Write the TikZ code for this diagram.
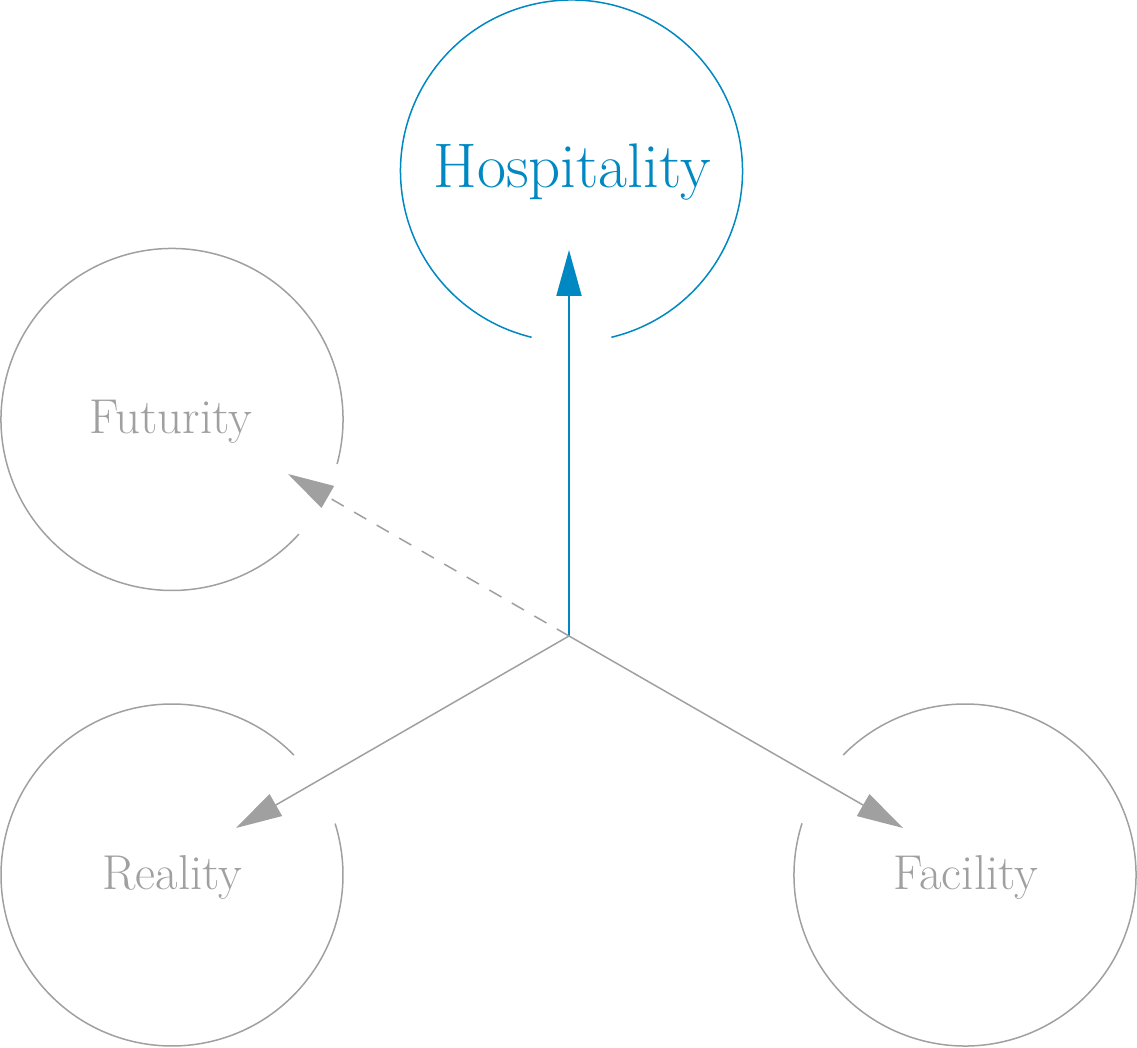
\documentclass[tikz,border=0pt]{standalone}
\usetikzlibrary{arrows.meta}
\definecolor{hblue}{RGB}{0,136,194}
\definecolor{hgray}{RGB}{160,160,160}
\begin{document}
\begin{tikzpicture}[x=1pt,y=1pt,
  ring/.style={line width=1.5pt},
  lbl/.style={anchor=base, inner sep=0pt, font=\fontsize{49}{58}\selectfont, text=hgray},
  tipped/.style={-{Triangle[length=46pt,width=25pt]}}]
\useasboundingbox (0,0) rectangle (1137,1048);
% centres and points
\coordinate (hub) at (569,412);
\coordinate (cH) at (571.5,877);
\coordinate (cF) at (172,628.5);
\coordinate (cR) at (172,173);
\coordinate (cFa) at (965,173);
\coordinate (tH) at (569,798);
\coordinate (tF) at (288,574);
\coordinate (tR) at (236,220);
\coordinate (tFa) at (903,220);
% rings with gaps
\draw[ring,hblue] (cH) ++(283.5:171) arc[start angle=283.5, end angle=616.5, radius=171];
\draw[ring,hgray] (cF) ++(-15.1:171) arc[start angle=-15.1, end angle=317.9, radius=171];
\draw[ring,hgray] (cR) ++(44.5:171) arc[start angle=44.5, end angle=377.5, radius=171];
\draw[ring,hgray] (cFa) ++(162.4:171) arc[start angle=162.4, end angle=495.4, radius=171];
% labels
\node[lbl, text=hblue, font=\fontsize{63}{74}\selectfont] (hosp) at (572,860) {Hospitality};
\node[lbl] (fut) at (171,614) {Futurity};
\node[lbl] (real) at (172.5,158) {Reality};
\node[lbl] (fac) at (966,158) {Facility};
% arrows
\draw[hblue, line width=2pt, tipped] (hub) -- (tH);
\draw[hgray, line width=1.5pt, tipped, dash pattern=on 14pt off 12pt] (hub) -- (tF);
\draw[hgray, line width=1.5pt, tipped] (hub) -- (tR);
\draw[hgray, line width=1.5pt, tipped] (hub) -- (tFa);
\end{tikzpicture}
\end{document}
